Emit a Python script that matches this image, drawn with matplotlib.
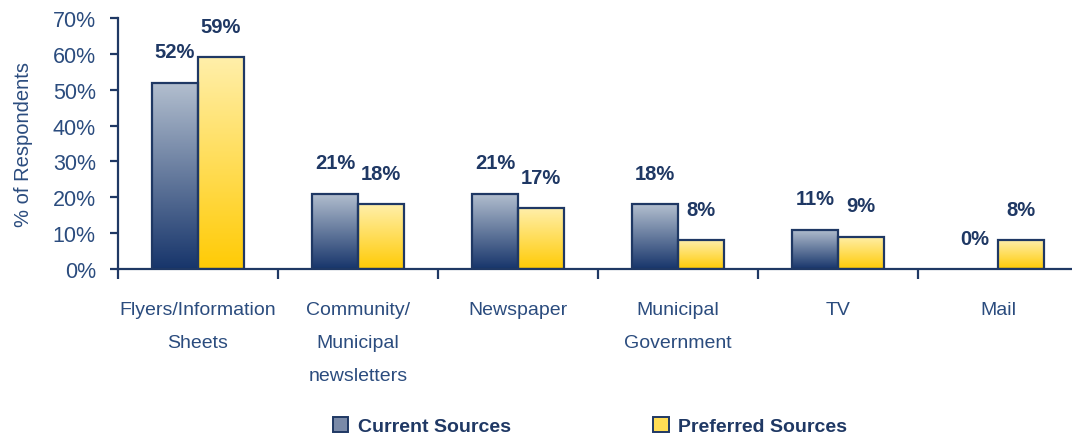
import numpy as np
import matplotlib
matplotlib.use('Agg')
import matplotlib.pyplot as plt
from matplotlib.colors import LinearSegmentedColormap
from matplotlib.patches import Patch

categories = ['Flyers/Information\nSheets', 'Community/\nMunicipal\nnewsletters', 'Newspaper',
              'Municipal\nGovernment', 'TV', 'Mail']
current = [52, 21, 21, 18, 11, 0]
preferred = [59, 18, 17, 8, 9, 8]
series_names = ['Current Sources', 'Preferred Sources']

plt.rcParams['font.family'] = ['Liberation Sans Narrow', 'Liberation Sans', 'DejaVu Sans']

navy = '#1F3864'
text_col = '#2B4C7E'
cm_cur = LinearSegmentedColormap.from_list('cur', ['#17356B', '#B3BFCF'])
cm_pref = LinearSegmentedColormap.from_list('pref', ['#FFCB05', '#FFEFAA'])

fig = plt.figure(figsize=(10.72, 4.39), dpi=100)
ax = fig.add_axes([118 / 1072, 169 / 439, 960 / 1072, 251 / 439])

x = np.arange(len(categories))
w = 0.2875
grad = np.linspace(0, 1, 256).reshape(-1, 1)


def gradient_bars(xs, vals, cmap):
    bars = ax.bar(xs, vals, w, facecolor='none', edgecolor=navy, linewidth=1.6, zorder=3)
    for b in bars:
        if b.get_height() <= 0:
            b.set_visible(False)
            continue
        x0 = b.get_x()
        im = ax.imshow(grad, cmap=cmap, origin='lower', aspect='auto',
                       extent=(x0, x0 + b.get_width(), 0, b.get_height()), zorder=2)
        im.set_clip_path(b)
    return bars


gradient_bars(x - w / 2, current, cm_cur)
gradient_bars(x + w / 2, preferred, cm_pref)

for xs, vals in [(x - w / 2, current), (x + w / 2, preferred)]:
    for xi, v in zip(xs, vals):
        ax.text(xi, v + 8.6, f'{v}%', ha='center', va='center', fontsize=14.5,
                fontweight='bold', color=navy)

ax.set_xlim(-0.5, 5.5)
ax.set_ylim(0, 70)
ax.set_yticks(range(0, 71, 10))
ax.set_yticklabels([f'{v}%' for v in range(0, 71, 10)], fontsize=15.5, color=text_col)
ax.set_xticks(np.arange(-0.5, 5.5, 1))
ax.set_xticklabels([])
ax.set_xticks(x, minor=True)
ax.set_xticklabels(categories, minor=True, fontsize=14, color=text_col, linespacing=2.25, va='top')
ax.tick_params(axis='x', which='minor', length=0, pad=23)
ax.tick_params(axis='x', which='major', length=7, width=1.6, color=navy, direction='out')
ax.tick_params(axis='y', length=6, width=1.6, color=navy, direction='out', pad=10)
for s in ['top', 'right']:
    ax.spines[s].set_visible(False)
for s in ['left', 'bottom']:
    ax.spines[s].set_color(navy)
    ax.spines[s].set_linewidth(1.6)
ax.set_ylabel('% of Respondents', fontsize=14.5, color=text_col, labelpad=14)

handles = [Patch(facecolor='#7A8AA8', edgecolor=navy, linewidth=1.4),
           Patch(facecolor='#FFDD55', edgecolor=navy, linewidth=1.4)]
leg = fig.legend(handles, series_names, loc='center', bbox_to_anchor=(590 / 1072, 1 - 427 / 439),
                 ncol=2, frameon=False, fontsize=14, columnspacing=7.3, handlelength=0.8,
                 handleheight=0.8, handletextpad=0.5)
for t in leg.get_texts():
    t.set_color(navy)
    t.set_fontweight('bold')

fig.savefig('out.png', dpi=100)
